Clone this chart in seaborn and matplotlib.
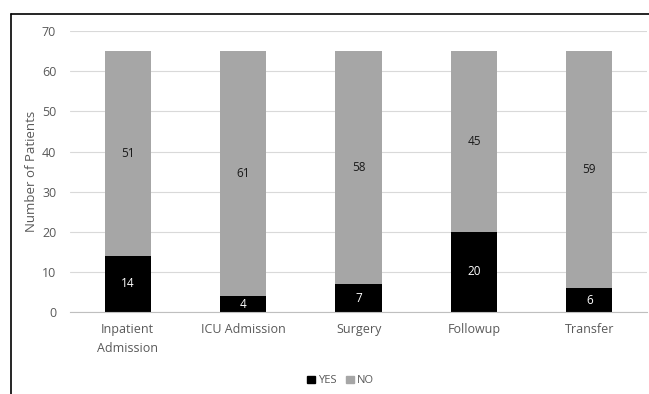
import matplotlib.pyplot as plt
import pandas as pd
import seaborn as sns
from matplotlib.lines import Line2D
from matplotlib.patches import Patch

categories = ["Inpatient\nAdmission", "ICU Admission", "Surgery", "Followup", "Transfer"]
yes_values = [14, 4, 7, 20, 6]
no_values = [51, 61, 58, 45, 59]

YES_COLOR = "#000000"
NO_COLOR = "#a6a6a6"
TEXT_COLOR = "#595959"

sns.set_theme(style="white")
plt.rcParams["font.family"] = ["Open Sans", "DejaVu Sans"]

df = pd.DataFrame({"category": categories, "yes": yes_values, "no": no_values})
df["total"] = df["yes"] + df["no"]

fig = plt.figure(figsize=(6.49, 3.94), dpi=100)
ax = fig.add_axes([0.108, 0.208, 0.889, 0.713])

sns.barplot(data=df, x="category", y="total", color=NO_COLOR, width=0.4,
            saturation=1, linewidth=0, ax=ax)
sns.barplot(data=df, x="category", y="yes", color=YES_COLOR, width=0.4,
            saturation=1, linewidth=0, ax=ax)

for i, row in df.iterrows():
    ax.text(i, row["yes"] / 2, str(row["yes"]), ha="center", va="center",
            color="white", fontsize=8.5)
    ax.text(i, row["yes"] + row["no"] / 2, str(row["no"]), ha="center",
            va="center", color="#1a1a1a", fontsize=8.5)

ax.set_ylim(0, 70)
ax.set_yticks(range(0, 71, 10))
ax.set_xlim(-0.5, len(categories) - 0.5)
ax.yaxis.grid(True, color="#d9d9d9", linewidth=0.8)
ax.set_axisbelow(True)
for side in ["top", "right", "left"]:
    ax.spines[side].set_visible(False)
ax.spines["bottom"].set_color("#bfbfbf")
ax.spines["bottom"].set_linewidth(0.8)

ax.set_xticks([i + 0.5 for i in range(-1, len(categories))], minor=True)
ax.tick_params(axis="x", which="minor", length=4, color="#bfbfbf", width=0.8)
ax.tick_params(axis="x", which="major", length=0, labelsize=9,
               labelcolor=TEXT_COLOR, pad=8)
for lbl in ax.get_xticklabels():
    lbl.set_linespacing(1.6)
ax.tick_params(axis="y", length=0, labelsize=9, labelcolor=TEXT_COLOR, pad=10)
ax.set_xlabel("")
ax.set_ylabel("Number of Patients", fontsize=9.5, color=TEXT_COLOR, labelpad=3)

handles = [Patch(color=YES_COLOR, label="YES"), Patch(color=NO_COLOR, label="NO")]
fig.legend(handles=handles, loc="center", bbox_to_anchor=(0.525, 0.033), ncol=2,
           frameon=False, fontsize=8, handlelength=0.7, handleheight=0.7,
           handletextpad=0.3, columnspacing=0.8, labelcolor=TEXT_COLOR)

fig.add_artist(Line2D([11 / 649, 1], [1 - 14 / 394] * 2, color="black", linewidth=1.2))
fig.add_artist(Line2D([11 / 649] * 2, [0, 1 - 14 / 394], color="black", linewidth=1.2))

fig.savefig("out.png", dpi=100)
